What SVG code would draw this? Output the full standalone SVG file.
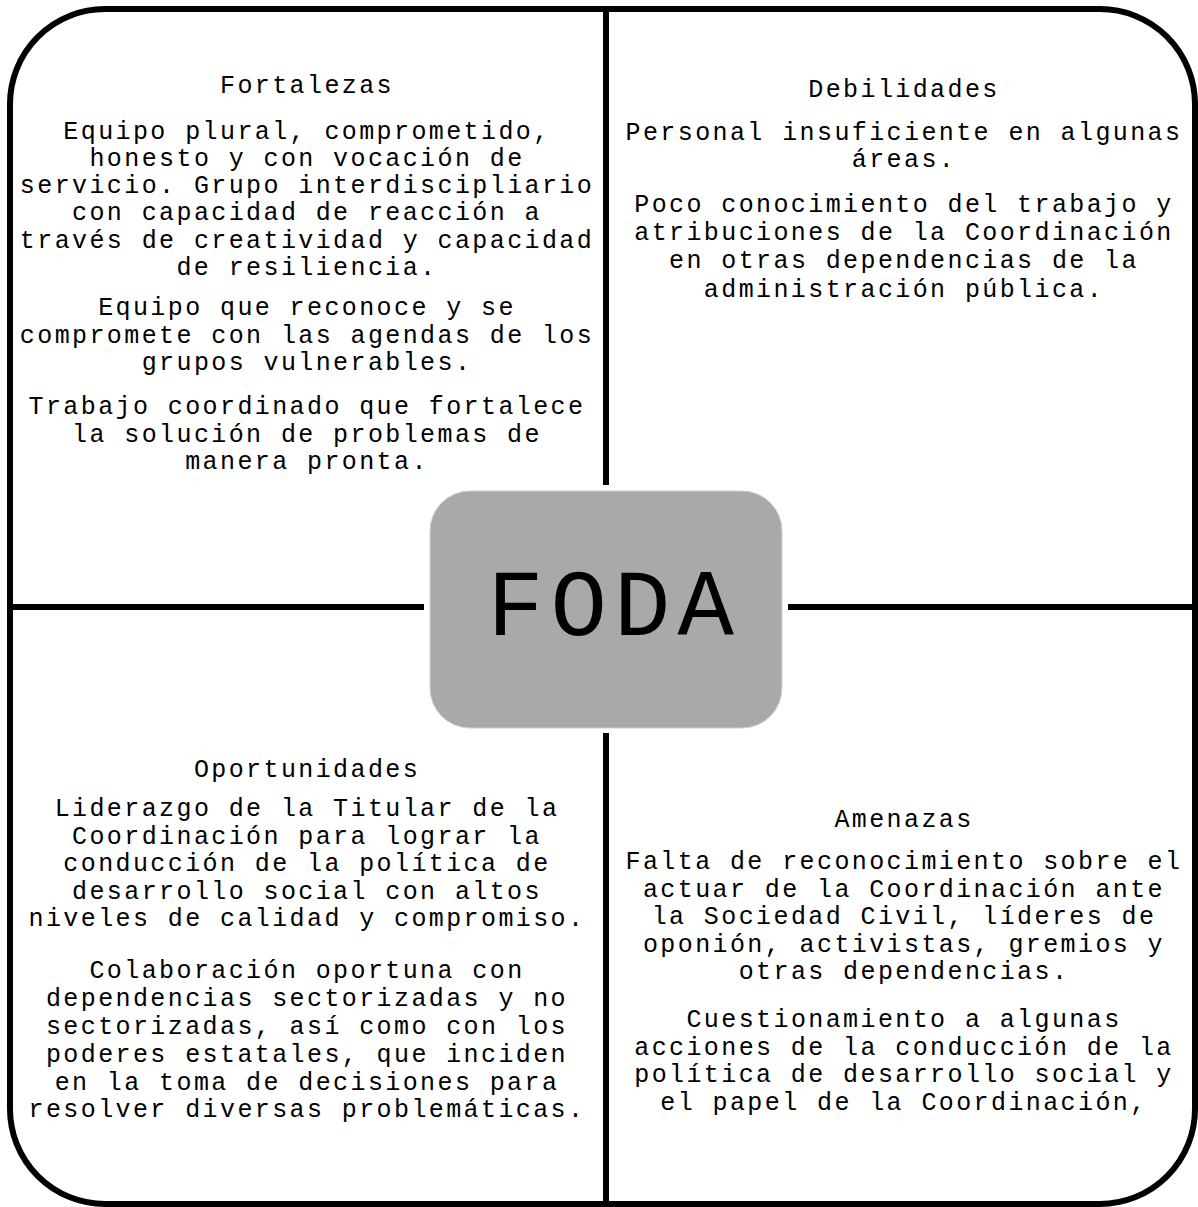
<svg xmlns="http://www.w3.org/2000/svg" width="1198" height="1207" viewBox="0 0 1198 1207">
<style>
.t{font-family:"Liberation Mono","DejaVu Sans Mono",monospace;font-size:25px;letter-spacing:2.4px;fill:#000;text-anchor:middle}
.ln{stroke:#000;stroke-width:6;fill:none}
</style>
<rect width="1198" height="1207" fill="#fff"/>
<g id="frame">
<rect x="10" y="9" width="1185" height="1195" rx="95" ry="95" class="ln"/>
</g>
<g id="connectors">
<line x1="606" y1="9" x2="606" y2="485" class="ln"/>
<line x1="606" y1="733" x2="606" y2="1204" class="ln"/>
<line x1="10" y1="607" x2="424" y2="607" class="ln"/>
<line x1="788" y1="607" x2="1195" y2="607" class="ln"/>
</g>
<g id="fortalezas">
<text class="t" x="307" y="93">Fortalezas</text>
<text class="t" x="307" y="139">Equipo plural, comprometido,</text>
<text class="t" x="307" y="166">honesto y con vocación de</text>
<text class="t" x="307" y="193">servicio. Grupo interdiscipliario</text>
<text class="t" x="307" y="220">con capacidad de reacción a</text>
<text class="t" x="307" y="248">través de creatividad y capacidad</text>
<text class="t" x="307" y="275">de resiliencia.</text>
<text class="t" x="307" y="315">Equipo que reconoce y se</text>
<text class="t" x="307" y="343">compromete con las agendas de los</text>
<text class="t" x="307" y="370">grupos vulnerables.</text>
<text class="t" x="307" y="414">Trabajo coordinado que fortalece</text>
<text class="t" x="307" y="442">la solución de problemas de</text>
<text class="t" x="307" y="469">manera pronta.</text>
</g>
<g id="debilidades">
<text class="t" x="904" y="97">Debilidades</text>
<text class="t" x="904" y="140">Personal insuficiente en algunas</text>
<text class="t" x="904" y="167">áreas.</text>
<text class="t" x="904" y="212">Poco conocimiento del trabajo y</text>
<text class="t" x="904" y="240">atribuciones de la Coordinación</text>
<text class="t" x="904" y="268">en otras dependencias de la</text>
<text class="t" x="904" y="297">administración pública.</text>
</g>
<g id="oportunidades">
<text class="t" x="307" y="777">Oportunidades</text>
<text class="t" x="307" y="816">Liderazgo de la Titular de la</text>
<text class="t" x="307" y="844">Coordinación para lograr la</text>
<text class="t" x="307" y="871">conducción de la política de</text>
<text class="t" x="307" y="899">desarrollo social con altos</text>
<text class="t" x="307" y="926">niveles de calidad y compromiso.</text>
<text class="t" x="307" y="978">Colaboración oportuna con</text>
<text class="t" x="307" y="1006">dependencias sectorizadas y no</text>
<text class="t" x="307" y="1034">sectorizadas, así como con los</text>
<text class="t" x="307" y="1062">poderes estatales, que inciden</text>
<text class="t" x="307" y="1090">en la toma de decisiones para</text>
<text class="t" x="307" y="1117">resolver diversas problemáticas.</text>
</g>
<g id="amenazas">
<text class="t" x="904" y="827">Amenazas</text>
<text class="t" x="904" y="869">Falta de reconocimiento sobre el</text>
<text class="t" x="904" y="897">actuar de la Coordinación ante</text>
<text class="t" x="904" y="924">la Sociedad Civil, líderes de</text>
<text class="t" x="904" y="952">oponión, activistas, gremios y</text>
<text class="t" x="904" y="979">otras dependencias.</text>
<text class="t" x="904" y="1027">Cuestionamiento a algunas</text>
<text class="t" x="904" y="1055">acciones de la conducción de la</text>
<text class="t" x="904" y="1082">política de desarrollo social y</text>
<text class="t" x="904" y="1110">el papel de la Coordinación,</text>
</g>
<g id="foda">
<rect x="430" y="491" width="352" height="237" rx="40" ry="40" fill="#a9a9a9" stroke="#d0d0d0" stroke-width="1"/>
<text x="614" y="635" font-family="Liberation Mono, DejaVu Sans Mono, monospace" font-size="94" letter-spacing="7" text-anchor="middle" fill="#000">FODA</text>
</g>
</svg>
